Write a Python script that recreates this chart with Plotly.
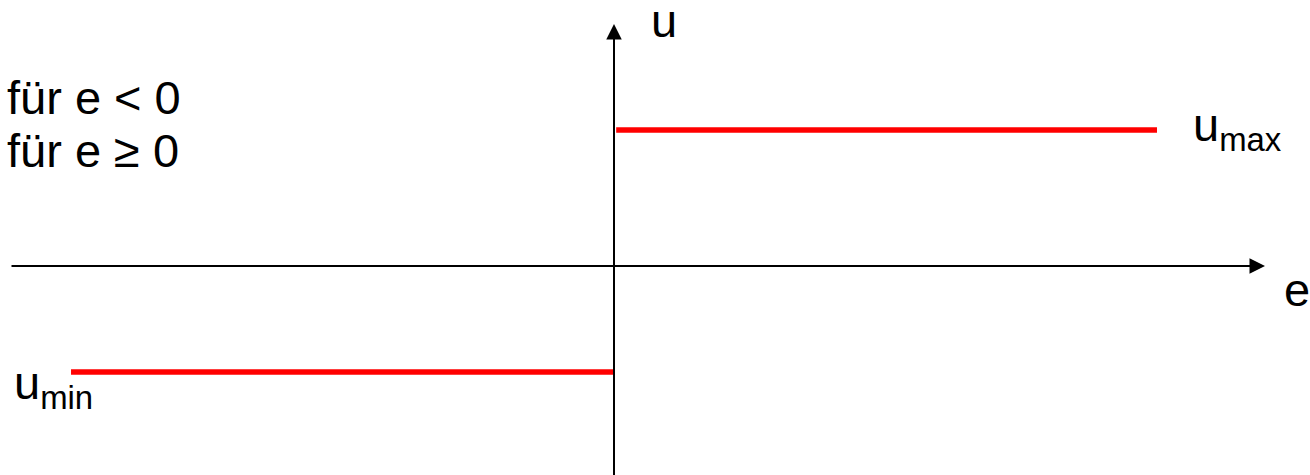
import plotly.graph_objects as go

# Data: two-point (bang-bang) controller characteristic
e_neg = [-1.0, 0.0]        # e < 0
u_neg = [-0.78, -0.78]     # u_min
e_pos = [0.0, 1.0]         # e >= 0
u_pos = [1.0, 1.0]         # u_max

W, H = 1310, 475
# axis ranges (origin at pixel 614, 266)
x_range = [-1.1308, 1.2818]
y_range = [-1.5368, 1.9559]

FONT = "Arial, Liberation Sans, sans-serif"

fig = go.Figure()
fig.add_trace(go.Scatter(x=e_neg, y=u_neg, mode="lines",
                         line=dict(color="#ff0000", width=5.5), hoverinfo="skip"))
fig.add_trace(go.Scatter(x=[e_pos[0] + 0.004, e_pos[1]], y=u_pos, mode="lines",
                         line=dict(color="#ff0000", width=5.5), hoverinfo="skip"))

def px(xp):
    return x_range[0] + xp / W * (x_range[1] - x_range[0])

def py(yp):
    return y_range[1] - yp / H * (y_range[1] - y_range[0])

ann = []
# e axis (horizontal) with arrow
ann.append(dict(x=px(1265), y=0, ax=px(10), ay=0, xref="x", yref="y", axref="x", ayref="y",
                text="", showarrow=True, arrowhead=2, arrowsize=1.55, arrowwidth=2,
                arrowcolor="black", standoff=0, startstandoff=0))
# u axis (vertical) with arrow
ann.append(dict(x=0, y=py(24), ax=0, ay=py(480), xref="x", yref="y", axref="x", ayref="y",
                text="", showarrow=True, arrowhead=2, arrowsize=1.55, arrowwidth=2,
                arrowcolor="black", standoff=0, startstandoff=0))

def label(text, xp, yp, xanchor="left", size=47):
    ann.append(dict(x=xp / W, y=1 - yp / H, xref="paper", yref="paper", text=text,
                    showarrow=False, xanchor=xanchor, yanchor="middle",
                    font=dict(family=FONT, size=size, color="black")))

label("u", 649, 20)
label("e", 1282, 289)
label("u<sub>max</sub>", 1191, 128)
label("u<sub>min</sub>", 12, 386)
label("für e &lt; 0", 5, 97)
label("für e ≥ 0", 5, 151)

fig.update_layout(
    width=W, height=H,
    margin=dict(l=0, r=0, t=0, b=0),
    paper_bgcolor="white", plot_bgcolor="white",
    showlegend=False,
    xaxis=dict(range=x_range, visible=False, fixedrange=True),
    yaxis=dict(range=y_range, visible=False, fixedrange=True),
    annotations=ann,
)
fig.write_html("out.html", config={"displayModeBar": False},
               post_script="document.body.style.margin='0';document.body.style.overflow='hidden';")
